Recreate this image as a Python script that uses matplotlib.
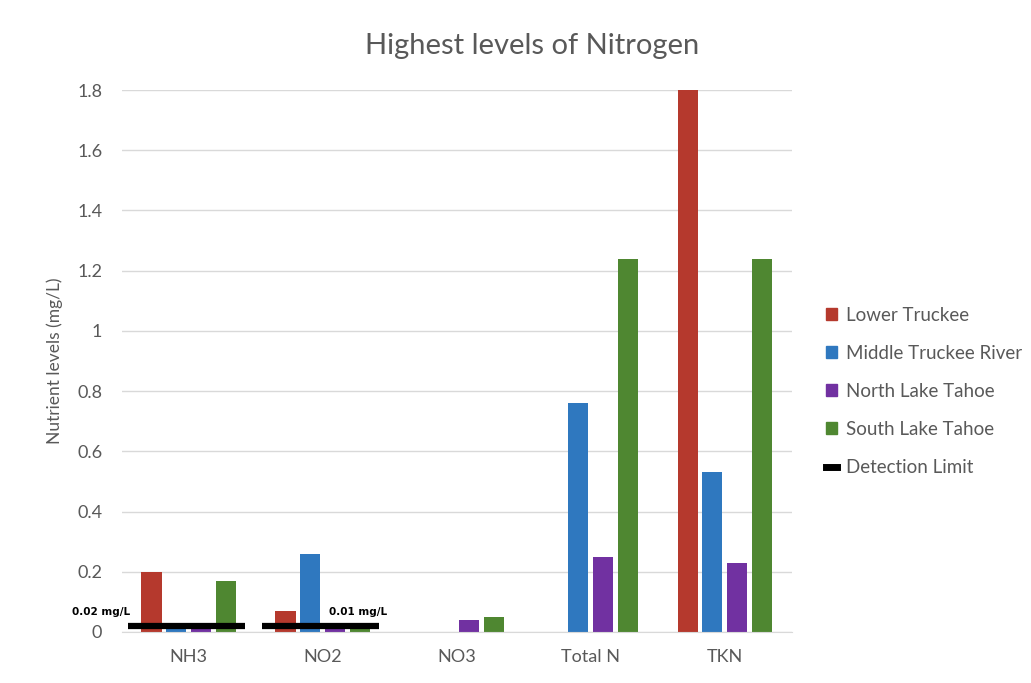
import numpy as np
import matplotlib.pyplot as plt
from matplotlib.patches import Patch
from matplotlib.lines import Line2D

plt.rcParams['font.family'] = ['Lato', 'DejaVu Sans']

categories = ['NH3', 'NO2', 'NO3', 'Total N', 'TKN']
sites = ['Lower Truckee', 'Middle Truckee River', 'North Lake Tahoe', 'South Lake Tahoe']
lower_truckee = [0.20, 0.07, 0.0, 0.0, 1.80]
middle_truckee = [0.02, 0.26, 0.0, 0.76, 0.53]
north_tahoe = [0.015, 0.01, 0.04, 0.25, 0.23]
south_tahoe = [0.17, 0.01, 0.05, 1.24, 1.24]
colors = ['#b5392d', '#2f78bf', '#7131a1', '#4f8731']

# detection limits (drawn for NH3 and NO2)
limit_cats = [0, 1]
limit_level = 0.02
limit_labels = ['0.02 mg/L', '0.01 mg/L']

fig = plt.figure(figsize=(10.31, 6.83), dpi=100)
ax = fig.add_axes([0.118, 0.0747, 0.650, 0.7935])

x = np.arange(len(categories))
step = 0.185
width = 0.15
series = [lower_truckee, middle_truckee, north_tahoe, south_tahoe]
for i, (vals, col) in enumerate(zip(series, colors)):
    ax.bar(x + (i - 1.5) * step, vals, width, color=col, zorder=2)

for c in limit_cats:
    ax.hlines(limit_level, c - 0.45, c + 0.42, color='black', lw=4.5, zorder=3)
ax.text(-0.87, 0.066, limit_labels[0], fontsize=7.5, fontweight='bold', va='center', ha='left',
        clip_on=False, family=['DejaVu Sans'])
ax.text(1.05, 0.066, limit_labels[1], fontsize=7.5, fontweight='bold', va='center', ha='left',
        family=['DejaVu Sans'])

ax.set_xlim(-0.5, 4.5)
ax.set_ylim(0, 1.8)
ax.set_yticks(np.arange(0, 1.81, 0.2))
ax.set_yticklabels(['0', '0.2', '0.4', '0.6', '0.8', '1', '1.2', '1.4', '1.6', '1.8'])
ax.set_xticks(x)
ax.set_xticklabels(categories)
ax.tick_params(axis='both', length=0, labelsize=13, labelcolor='#595959')
ax.tick_params(axis='y', pad=14)
ax.tick_params(axis='x', pad=12)
ax.yaxis.grid(True, color='#d9d9d9', lw=1, zorder=0)
for s in ['top', 'right', 'left']:
    ax.spines[s].set_visible(False)
ax.spines['bottom'].set_color('#d9d9d9')
ax.set_ylabel('Nutrient levels (mg/L)', fontsize=12.5, color='#595959', labelpad=10)

fig.text(0.516, 0.932, 'Highest levels of Nitrogen', ha='center', va='center', fontsize=21, color='#595959')

handles = [Patch(color=c) for c in colors] + [Line2D([0], [0], color='black', lw=5)]
labels = sites + ['Detection Limit']
fig.legend(handles, labels, loc='center left', bbox_to_anchor=(0.785, 0.427), frameon=False,
           fontsize=13.5, labelcolor='#595959', handlelength=0.6, handleheight=0.6,
           labelspacing=1.12, handletextpad=0.45)

fig.savefig('out.png', dpi=100)
